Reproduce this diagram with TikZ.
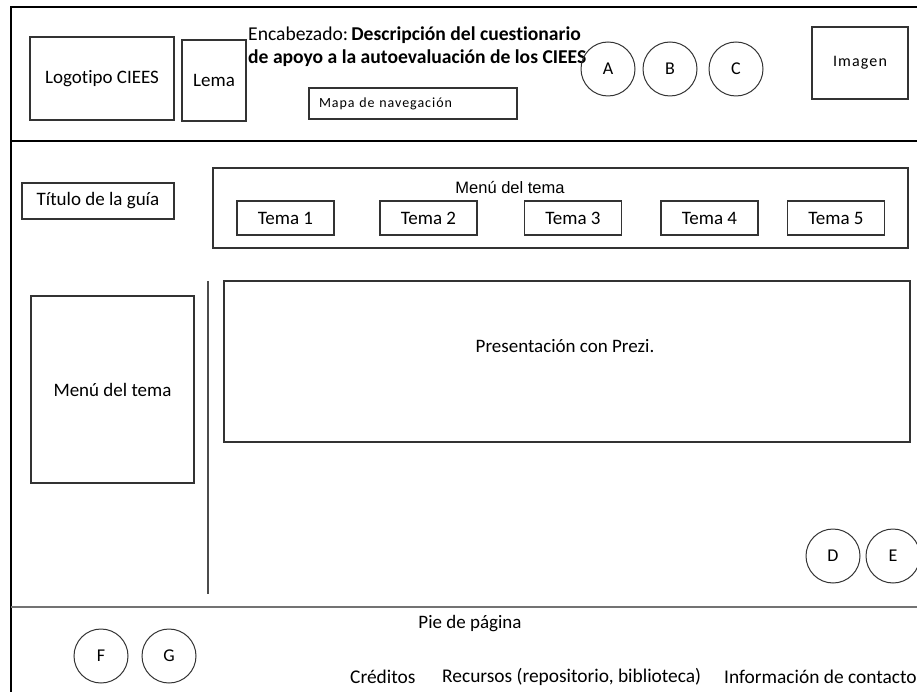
\documentclass[tikz,border=0pt]{standalone}
\usepackage{fontspec}
\setmainfont{Carlito}[Ligatures=NoCommon]
\newfontfamily\arialfont{Liberation Sans}
\newfontfamily\espaciada{Carlito}[LetterSpace=7,Ligatures=NoCommon]
\usetikzlibrary{positioning}

\newcommand{\txtgrande}{\fontsize{19}{23}\selectfont}
\newcommand{\txtmedio}{\fontsize{18}{21}\selectfont}
\newcommand{\txtchico}{\fontsize{14}{17}\selectfont}

\begin{document}
\begin{tikzpicture}[x=1pt,y=-1pt,
  caja/.style={draw=black!80,line width=1.1pt,inner sep=0pt,font=\txtgrande},
  boton/.style={draw=black!80,line width=1pt,circle,minimum size=54pt,inner sep=0pt,font=\txtmedio},
  texto/.style={inner sep=0pt,font=\txtgrande}]
\useasboundingbox (0,0) rectangle (917,692);
\clip (0,0) rectangle (917,692);
% marco de la pagina
\draw[line width=1.5pt] (917,7) -- (11,7) -- (11,692);
\draw[line width=1.5pt] (11,141) -- (917,141);
\draw[line width=2.5pt,black!55] (11,607) -- (917,607);
% encabezado
\node[caja,minimum width=144pt,minimum height=83pt] (logo) at (102,78.5) {Logotipo CIEES};
\node[caja,minimum width=64pt,minimum height=81pt] (lema) at (214,80.5) {Lema};
\node[texto,font=\fontsize{19.6}{23}\selectfont,anchor=west,align=left] (encabezado) at (248,47)
  {Encabezado:\,\textbf{Descripción del cuestionario}\\\textbf{de apoyo a la autoevaluación de los CIEES}};
\node[caja,font=\espaciada\txtchico,text width=188pt,align=left,inner xsep=10pt,minimum height=31pt] (mapa) at (413,103.5) {Mapa de navegación};
\foreach \l/\x in {A/608,B/670,C/736}
  \node[boton] (boton\l) at (\x,69) {\l};
\node[caja,font=\espaciada\fontsize{16}{19}\selectfont,minimum width=96pt,minimum height=72pt] (imagen) at (860,63) {Imagen};
% menu superior
\node[caja,minimum width=152pt,minimum height=36pt] (titulo) at (98,201) {Título de la guía};
\node[caja,minimum width=695pt,minimum height=80pt] (menusup) at (560.5,208) {};
\node[inner sep=0pt,font=\arialfont\fontsize{16.5}{19}\selectfont] (menusuptxt) at (510,188) {Menú del tema};
\foreach \n/\x in {1/285.5,2/428.5,3/573,4/709.5,5/836}
  \node[caja,minimum width=97pt,minimum height=34pt] (tema\n) at (\x,218) {Tema \n};
% cuerpo
\node[caja,minimum width=163pt,minimum height=187pt] (menulat) at (112.5,389.5) {Menú del tema};
\draw[draw=black!70,line width=1.1pt] (208,281) -- (208,594);
\node[caja,minimum width=686pt,minimum height=161pt] (prezi) at (567,361.5) {};
\node[texto] (prezitxt) at (565,346) {Presentación con Prezi.};
\node[boton] (botonD) at (833,556) {D};
\node[boton] (botonE) at (893,556) {E};
% pie de pagina
\node[texto] (pie) at (470,624) {Pie de página};
\node[boton] (botonF) at (101,656) {F};
\node[boton] (botonG) at (169,656) {G};
\begin{scope}[every node/.style={texto,anchor=west,font=\fontsize{19.4}{23}\selectfont}]
\node (creditos) at (350,677) {Créditos};
\node (recursos) at (442,677) {Recursos (repositorio, biblioteca)};
\node (contacto) at (724,677) {Información de contacto};
\end{scope}
\end{tikzpicture}
\end{document}
